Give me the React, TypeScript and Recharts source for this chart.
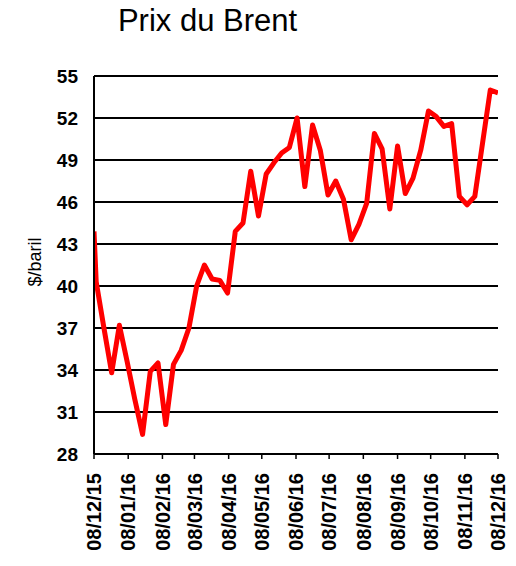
import React from "react";
import { LineChart, Line, XAxis, YAxis, CartesianGrid } from "recharts";

const FONT = "'Liberation Sans', Arial, sans-serif";

const title = "Prix du Brent";
const yLabel = "$/baril";

const dates = [
  "2015-12-08", "2015-12-10", "2015-12-17", "2015-12-24", "2015-12-31",
  "2016-01-07", "2016-01-14", "2016-01-21", "2016-01-28",
  "2016-02-04", "2016-02-11", "2016-02-18", "2016-02-25",
  "2016-03-03", "2016-03-10", "2016-03-17", "2016-03-24", "2016-03-31",
  "2016-04-07", "2016-04-14", "2016-04-21", "2016-04-28",
  "2016-05-05", "2016-05-12", "2016-05-19", "2016-05-26",
  "2016-06-02", "2016-06-09", "2016-06-16", "2016-06-23", "2016-06-30",
  "2016-07-07", "2016-07-14", "2016-07-21", "2016-07-28",
  "2016-08-04", "2016-08-11", "2016-08-18", "2016-08-25",
  "2016-09-01", "2016-09-08", "2016-09-15", "2016-09-22", "2016-09-29",
  "2016-10-06", "2016-10-13", "2016-10-20", "2016-10-27",
  "2016-11-03", "2016-11-10", "2016-11-17", "2016-11-24",
  "2016-12-01", "2016-12-08",
];

const brent = [
  43.9, 40.3, 37.0, 33.8, 37.2,
  34.6, 31.9, 29.4, 33.9,
  34.5, 30.1, 34.4, 35.4,
  37.0, 40.0, 41.5, 40.5, 40.4,
  39.5, 43.9, 44.5, 48.2,
  45.0, 48.0, 48.8, 49.5,
  49.9, 52.0, 47.1, 51.5, 49.7,
  46.5, 47.5, 46.2, 43.3,
  44.4, 45.9, 50.9, 49.8,
  45.5, 50.0, 46.6, 47.7, 49.7,
  52.5, 52.1, 51.4, 51.6,
  46.4, 45.8, 46.4, 50.2,
  54.0, 53.8,
];

const tickDates = [
  "2015-12-08", "2016-01-08", "2016-02-08", "2016-03-08", "2016-04-08",
  "2016-05-08", "2016-06-08", "2016-07-08", "2016-08-08", "2016-09-08",
  "2016-10-08", "2016-11-08", "2016-12-08",
];

const yTicks = [28, 31, 34, 37, 40, 43, 46, 49, 52, 55];

const ts = (s: string) => Date.parse(s + "T00:00:00Z");

const fmt = (t: number) => {
  const d = new Date(t);
  const dd = String(d.getUTCDate()).padStart(2, "0");
  const mm = String(d.getUTCMonth() + 1).padStart(2, "0");
  const yy = String(d.getUTCFullYear() % 100).padStart(2, "0");
  return `${dd}/${mm}/${yy}`;
};

const data = dates.map((d, i) => ({ t: ts(d), v: brent[i] }));
const xTicks = tickDates.map(ts);

function XTick(props: any) {
  const { x, y, payload } = props;
  return (
    <text
      x={x}
      y={y}
      transform={`rotate(-90, ${x}, ${y})`}
      textAnchor="end"
      dy="0.36em"
      fontSize={20}
      fontWeight="bold"
      fill="#000"
      fontFamily={FONT}
    >
      {fmt(payload.value)}
    </text>
  );
}

export default function App() {
  return (
    <div style={{ position: "absolute", left: 0, top: 0, width: 516, height: 566, background: "#fff" }}>
      <LineChart
        width={516}
        height={566}
        data={data}
        margin={{ top: 76, right: 18, left: 0, bottom: 0 }}
      >
        <CartesianGrid vertical={false} stroke="#000" strokeWidth={2} />
        <XAxis
          dataKey="t"
          type="number"
          domain={[xTicks[0], xTicks[xTicks.length - 1]]}
          ticks={xTicks}
          interval={0}
          allowDataOverflow
          height={112}
          tickSize={5}
          tickMargin={14}
          axisLine={{ stroke: "#000", strokeWidth: 2 }}
          tickLine={{ stroke: "#000", strokeWidth: 1.5 }}
          tick={<XTick />}
        />
        <YAxis
          type="number"
          domain={[28, 55]}
          ticks={yTicks}
          interval={0}
          width={94}
          tickSize={0}
          tickMargin={16}
          axisLine={{ stroke: "#000", strokeWidth: 2 }}
          tickLine={false}
          tick={{ fontSize: 19, fontWeight: "bold", fill: "#000", fontFamily: FONT }}
        />
        <Line
          type="linear"
          dataKey="v"
          stroke="#ff0000"
          strokeWidth={5}
          strokeLinejoin="round"
          dot={false}
          activeDot={false}
          isAnimationActive={false}
        />
      </LineChart>
      <svg
        width={516}
        height={566}
        style={{ position: "absolute", left: 0, top: 0, pointerEvents: "none" }}
      >
        <text x={207.5} y={31} textAnchor="middle" fontSize={31} fill="#000" fontFamily={FONT}>
          {title}
        </text>
        <text
          x={35}
          y={262}
          transform="rotate(-90, 35, 262)"
          textAnchor="middle"
          dy="0.35em"
          fontSize={18}
          fill="#000"
          fontFamily={FONT}
        >
          {yLabel}
        </text>
      </svg>
    </div>
  );
}
